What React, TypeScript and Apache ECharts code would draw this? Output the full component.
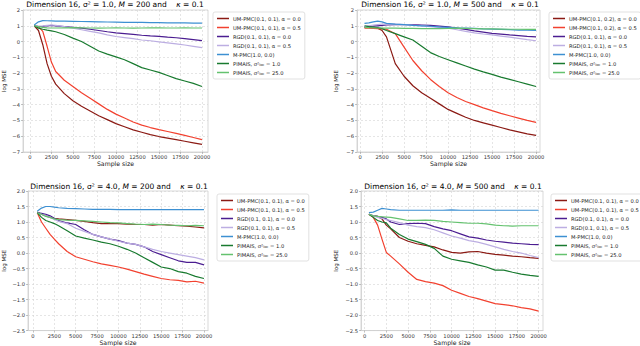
import React, { useEffect, useRef } from "react";
import * as echarts from "echarts";

// ---------- data ----------
const sampleSizes = [500, 1000, 1500, 2000, 2500, 3000, 4000, 5000, 6000, 7000, 8000, 9000, 10000, 11000, 12000, 13000, 14000, 15000, 16000, 17000, 18000, 19000, 20000];
const xTickValues = [0, 2500, 5000, 7500, 10000, 12500, 15000, 17500, 20000];

const namesA = [
  "UM-PMC(0.1, 0.1), α = 0.0",
  "UM-PMC(0.1, 0.1), α = 0.5",
  "RGD(0.1, 0.1), α = 0.0",
  "RGD(0.1, 0.1), α = 0.5",
  "M-PMC(1.0, 0.0)",
  "PIMAIS, σ²loc = 1.0",
  "PIMAIS, σ²loc = 25.0",
];
const namesB = [
  "UM-PMC(0.1, 0.2), α = 0.0",
  "UM-PMC(0.1, 0.2), α = 0.5",
  "RGD(0.1, 0.1), α = 0.0",
  "RGD(0.1, 0.1), α = 0.5",
  "M-PMC(1.0, 0.0)",
  "PIMAIS, σ²loc = 1.0",
  "PIMAIS, σ²loc = 25.0",
];

const titles = [
  "Dimension 16, σ² = 1.0, {i|M} = 200 and    {i|κ} = 0.1",
  "Dimension 16, σ² = 1.0, {i|M} = 500 and    {i|κ} = 0.1",
  "Dimension 16, σ² = 4.0, {i|M} = 200 and    {i|κ} = 0.1",
  "Dimension 16, σ² = 4.0, {i|M} = 500 and    {i|κ} = 0.1",
];

// Panel 1: sigma^2 = 1.0, M = 200
const p1Um0 = [1.0, 0.7, -0.2, -1.4, -2.2, -2.7, -3.3, -3.75, -4.1, -4.4, -4.7, -4.95, -5.2, -5.4, -5.6, -5.75, -5.9, -6.02, -6.12, -6.22, -6.32, -6.42, -6.52];
const p1Um5 = [1.0, 0.95, 0.65, -0.3, -1.3, -1.9, -2.45, -2.85, -3.25, -3.6, -3.95, -4.3, -4.6, -4.85, -5.1, -5.3, -5.45, -5.58, -5.7, -5.82, -5.95, -6.08, -6.22];
const p1Rgd0 = [1.0, 0.95, 0.97, 1.0, 1.02, 1.0, 0.95, 0.9, 0.85, 0.78, 0.7, 0.62, 0.55, 0.5, 0.45, 0.4, 0.36, 0.33, 0.28, 0.24, 0.18, 0.12, 0.06];
const p1Rgd5 = [1.0, 0.98, 1.0, 1.03, 1.05, 1.03, 0.95, 0.85, 0.75, 0.65, 0.55, 0.42, 0.32, 0.25, 0.18, 0.1, 0.05, -0.02, -0.08, -0.15, -0.22, -0.3, -0.38];
const p1Mpmc = [1.05, 1.25, 1.33, 1.32, 1.31, 1.3, 1.29, 1.28, 1.27, 1.26, 1.25, 1.24, 1.23, 1.22, 1.22, 1.21, 1.2, 1.2, 1.19, 1.18, 1.18, 1.17, 1.17];
const p1Pim1 = [1.0, 0.85, 0.78, 0.72, 0.68, 0.62, 0.45, 0.22, 0.0, -0.3, -0.6, -0.8, -0.97, -1.15, -1.4, -1.65, -1.8, -1.95, -2.15, -2.35, -2.5, -2.65, -2.85];
const p1Pim25 = [1.0, 0.95, 0.9, 0.87, 0.86, 0.86, 0.87, 0.88, 0.87, 0.86, 0.85, 0.86, 0.87, 0.86, 0.85, 0.86, 0.87, 0.87, 0.86, 0.86, 0.87, 0.86, 0.86];

// Panel 2: sigma^2 = 1.0, M = 500
const p2Um0 = [0.9, 0.9, 0.88, 0.85, 0.7, 0.3, -1.4, -2.2, -2.8, -3.25, -3.6, -3.95, -4.3, -4.55, -4.8, -5.0, -5.15, -5.3, -5.45, -5.6, -5.72, -5.85, -5.95];
const p2Um5 = [0.85, 0.85, 0.83, 0.82, 0.8, 0.78, 0.5, -0.35, -1.2, -1.85, -2.4, -2.85, -3.25, -3.55, -3.8, -4.0, -4.2, -4.38, -4.55, -4.7, -4.85, -5.0, -5.12];
const p2Rgd0 = [0.95, 0.97, 0.98, 1.0, 1.02, 1.05, 1.07, 1.08, 1.07, 1.05, 1.02, 0.98, 0.93, 0.85, 0.77, 0.68, 0.6, 0.52, 0.47, 0.42, 0.38, 0.33, 0.3];
const p2Rgd5 = [0.95, 1.0, 1.05, 1.08, 1.1, 1.1, 1.1, 1.08, 1.05, 1.0, 0.95, 0.9, 0.85, 0.75, 0.65, 0.55, 0.48, 0.42, 0.35, 0.28, 0.2, 0.12, 0.05];
const p2Mpmc = [1.15, 1.18, 1.25, 1.3, 1.25, 1.15, 1.1, 1.07, 1.03, 1.0, 0.97, 0.93, 0.9, 0.87, 0.85, 0.83, 0.8, 0.79, 0.77, 0.75, 0.73, 0.72, 0.7];
const p2Pim1 = [1.0, 0.95, 0.92, 0.88, 0.82, 0.7, 0.5, 0.3, 0.1, -0.3, -0.7, -0.95, -1.15, -1.35, -1.55, -1.75, -1.92, -2.08, -2.25, -2.4, -2.55, -2.7, -2.85];
const p2Pim25 = [0.9, 0.88, 0.87, 0.86, 0.86, 0.85, 0.85, 0.84, 0.83, 0.82, 0.82, 0.82, 0.83, 0.85, 0.84, 0.82, 0.8, 0.8, 0.79, 0.78, 0.78, 0.77, 0.77];

// Panel 3: sigma^2 = 4.0, M = 200
const p3Um0 = [1.32, 1.25, 1.2, 1.15, 1.12, 1.1, 1.08, 1.05, 1.02, 0.98, 0.95, 0.95, 0.95, 0.93, 0.92, 0.92, 0.9, 0.92, 0.9, 0.88, 0.87, 0.84, 0.81];
const p3Um5 = [1.3, 1.0, 0.8, 0.6, 0.45, 0.3, 0.05, -0.12, -0.2, -0.28, -0.35, -0.4, -0.45, -0.52, -0.6, -0.68, -0.75, -0.82, -0.86, -0.88, -0.93, -0.91, -0.97];
const p3Rgd0 = [1.3, 1.28, 1.25, 1.2, 1.12, 1.05, 0.97, 0.92, 0.75, 0.6, 0.52, 0.45, 0.4, 0.32, 0.28, 0.2, 0.05, -0.05, -0.15, -0.25, -0.3, -0.3, -0.38];
const p3Rgd5 = [1.3, 1.25, 1.2, 1.15, 1.08, 1.02, 0.95, 0.8, 0.7, 0.6, 0.52, 0.45, 0.38, 0.32, 0.28, 0.2, 0.12, 0.05, 0.0, -0.05, -0.1, -0.15, -0.22];
const p3Mpmc = [1.35, 1.45, 1.5, 1.5, 1.48, 1.46, 1.44, 1.43, 1.42, 1.41, 1.41, 1.41, 1.4, 1.4, 1.4, 1.4, 1.4, 1.4, 1.4, 1.4, 1.4, 1.4, 1.4];
const p3Pim1 = [1.3, 1.15, 1.05, 1.0, 0.95, 0.88, 0.72, 0.55, 0.48, 0.42, 0.35, 0.3, 0.22, 0.12, 0.0, -0.15, -0.3, -0.45, -0.5, -0.6, -0.65, -0.75, -0.82];
const p3Pim25 = [1.3, 1.25, 1.18, 1.15, 1.1, 1.08, 1.06, 1.05, 1.04, 1.02, 1.0, 0.98, 0.97, 0.95, 0.93, 0.92, 0.93, 0.92, 0.9, 0.89, 0.88, 0.89, 0.88];

// Panel 4: sigma^2 = 4.0, M = 500
const p4Um0 = [1.25, 1.2, 1.18, 1.1, 0.9, 0.78, 0.5, 0.38, 0.3, 0.25, 0.2, 0.1, 0.02, 0.0, 0.04, 0.05, 0.0, -0.04, -0.07, -0.1, -0.12, -0.15, -0.17];
const p4Um5 = [1.25, 1.15, 0.9, 0.45, 0.02, -0.1, -0.35, -0.62, -0.85, -0.92, -0.97, -1.05, -1.2, -1.3, -1.4, -1.47, -1.55, -1.63, -1.66, -1.7, -1.76, -1.8, -1.87];
const p4Rgd0 = [1.25, 1.2, 1.18, 1.15, 1.1, 1.0, 0.92, 0.95, 0.96, 0.95, 0.85, 0.78, 0.72, 0.62, 0.52, 0.48, 0.42, 0.38, 0.35, 0.32, 0.3, 0.28, 0.27];
const p4Rgd5 = [1.25, 1.2, 1.15, 1.12, 1.08, 1.05, 0.98, 0.9, 0.85, 0.82, 0.75, 0.65, 0.55, 0.48, 0.4, 0.35, 0.28, 0.2, 0.12, 0.05, 0.0, -0.08, -0.15];
const p4Mpmc = [1.3, 1.32, 1.38, 1.44, 1.42, 1.4, 1.38, 1.38, 1.38, 1.38, 1.38, 1.38, 1.39, 1.38, 1.38, 1.38, 1.38, 1.38, 1.38, 1.38, 1.38, 1.38, 1.38];
const p4Pim1 = [1.25, 1.15, 1.05, 1.0, 0.97, 0.8, 0.6, 0.45, 0.37, 0.28, 0.15, -0.1, -0.2, -0.25, -0.3, -0.38, -0.45, -0.55, -0.55, -0.62, -0.68, -0.72, -0.75];
const p4Pim25 = [1.25, 1.2, 1.18, 1.17, 1.16, 1.15, 1.1, 1.05, 1.05, 1.06, 1.05, 1.02, 1.0, 0.98, 0.96, 0.96, 0.94, 0.9, 0.88, 0.87, 0.88, 0.88, 0.88];

const colors = ["#8b1a14", "#f2412f", "#4b1d91", "#bcaee2", "#3d90d2", "#187a2f", "#64c26f"];

// ---------- layout ----------
const panels = [
  { grid: { left: 22, top: 10, width: 186, height: 142 }, xMin: -800, xMax: 20700, yMin: -7, yMax: 2, yStep: 1, dec: 0,
    names: namesA, data: [p1Um0, p1Um5, p1Rgd0, p1Rgd5, p1Mpmc, p1Pim1, p1Pim25], legend: { left: 213, top: 12 },
    titleX: 115, titleY: 4, yNameGap: 16 },
  { grid: { left: 357, top: 10, width: 183, height: 142 }, xMin: -350, xMax: 20450, yMin: -7, yMax: 2, yStep: 1, dec: 0,
    names: namesB, data: [p2Um0, p2Um5, p2Rgd0, p2Rgd5, p2Mpmc, p2Pim1, p2Pim25], legend: { left: 549, top: 12 },
    titleX: 450, titleY: 4, yNameGap: 18 },
  { grid: { left: 27, top: 191, width: 181, height: 140 }, xMin: -580, xMax: 20470, yMin: -2.5, yMax: 2, yStep: 0.5, dec: 1,
    names: namesA, data: [p3Um0, p3Um5, p3Rgd0, p3Rgd5, p3Mpmc, p3Pim1, p3Pim25], legend: { left: 217, top: 194 },
    titleX: 119, titleY: 186, yNameGap: 21 },
  { grid: { left: 361, top: 191, width: 182, height: 140 }, xMin: -410, xMax: 20500, yMin: -2.5, yMax: 2, yStep: 0.5, dec: 1,
    names: namesA, data: [p4Um0, p4Um5, p4Rgd0, p4Rgd5, p4Mpmc, p4Pim1, p4Pim25], legend: { left: 551, top: 194 },
    titleX: 453, titleY: 186, yNameGap: 22 },
];

const FONT = "DejaVu Sans";
const minus = (s: string) => s.replace("-", "\u2212");

function buildOption() {
  const grid: any[] = [];
  const xAxis: any[] = [];
  const yAxis: any[] = [];
  const series: any[] = [];
  const legend: any[] = [];
  const graphic: any[] = [];

  panels.forEach((p, i) => {
    grid.push({ ...p.grid, show: true, borderColor: "#cfcfcf", borderWidth: 0.8, backgroundColor: "#fff", containLabel: false });
    xAxis.push({
      type: "value", gridIndex: i, min: p.xMin, max: p.xMax,
      name: "Sample size", nameLocation: "middle", nameGap: 8,
      nameTextStyle: { fontFamily: FONT, fontSize: 6.2, color: "#222" },
      axisLine: { show: true, onZero: false, lineStyle: { color: "#cfcfcf", width: 0.8 } },
      axisTick: { show: true, length: 2, customValues: xTickValues, lineStyle: { color: "#999", width: 0.6 } },
      axisLabel: { customValues: xTickValues, fontFamily: FONT, fontSize: 5.2, color: "#333", margin: 2.5, hideOverlap: false,
        formatter: (v: number) => String(v) },
      splitLine: { show: true, lineStyle: { color: "#d4d4d4", type: [2, 2], width: 0.6 } },
    });
    yAxis.push({
      type: "value", gridIndex: i, min: p.yMin, max: p.yMax, interval: p.yStep,
      name: "log MSE", nameLocation: "middle", nameGap: p.yNameGap, nameRotate: 90,
      nameTextStyle: { fontFamily: FONT, fontSize: 5.5, color: "#222" },
      axisLine: { show: true, onZero: false, lineStyle: { color: "#cfcfcf", width: 0.8 } },
      axisTick: { show: true, length: 2, lineStyle: { color: "#999", width: 0.6 } },
      axisLabel: { fontFamily: FONT, fontSize: 5.2, color: "#333", margin: 3,
        formatter: (v: number) => minus(v.toFixed(p.dec)) },
      splitLine: { show: true, lineStyle: { color: "#d4d4d4", type: [2, 2], width: 0.6 } },
    });
    p.names.forEach((name, k) => {
      series.push({
        type: "line", name, xAxisIndex: i, yAxisIndex: i,
        data: sampleSizes.map((x, j) => [x, p.data[k][j]]),
        showSymbol: false, symbol: "none", smooth: false,
        lineStyle: { color: colors[k], width: 1.2 },
        itemStyle: { color: colors[k] },
        z: 2 + k,
      });
    });
    legend.push({
      data: p.names, left: p.legend.left, top: p.legend.top, orient: "vertical",
      icon: "rect", itemWidth: 12, itemHeight: 1.5, itemGap: 2,
      padding: [3, 4, 3, 4], backgroundColor: "#fff", borderColor: "#d9d9d9", borderWidth: 0.8, borderRadius: 2,
      selectedMode: false,
      formatter: (n: string) => n.replace("σ²loc", "σ²{s|loc}"),
      textStyle: { fontFamily: FONT, fontSize: 5.2, color: "#222", lineHeight: 7, padding: [0, 0, 0, -1],
        rich: { s: { fontFamily: FONT, fontSize: 3.6, color: "#222", verticalAlign: "bottom", lineHeight: 7 } } },
    });
    graphic.push({
      type: "text", x: p.titleX, y: p.titleY, z: 100,
      style: {
        text: titles[i], fontFamily: FONT, fontSize: 7.5, fill: "#000", align: "center", verticalAlign: "middle",
        rich: { i: { fontFamily: FONT, fontSize: 7.5, fontStyle: "italic", fill: "#000" } },
      },
    });
  });

  return {
    animation: false,
    backgroundColor: "#fff",
    grid, xAxis, yAxis, series, legend, graphic,
  };
}

export default function App() {
  const ref = useRef<HTMLDivElement>(null);
  useEffect(() => {
    const chart = echarts.init(ref.current!, null, { renderer: "svg" });
    chart.setOption(buildOption() as any);
    return () => chart.dispose();
  }, []);
  return <div ref={ref} style={{ position: "absolute", left: 0, top: 0, width: 640, height: 346 }} />;
}
